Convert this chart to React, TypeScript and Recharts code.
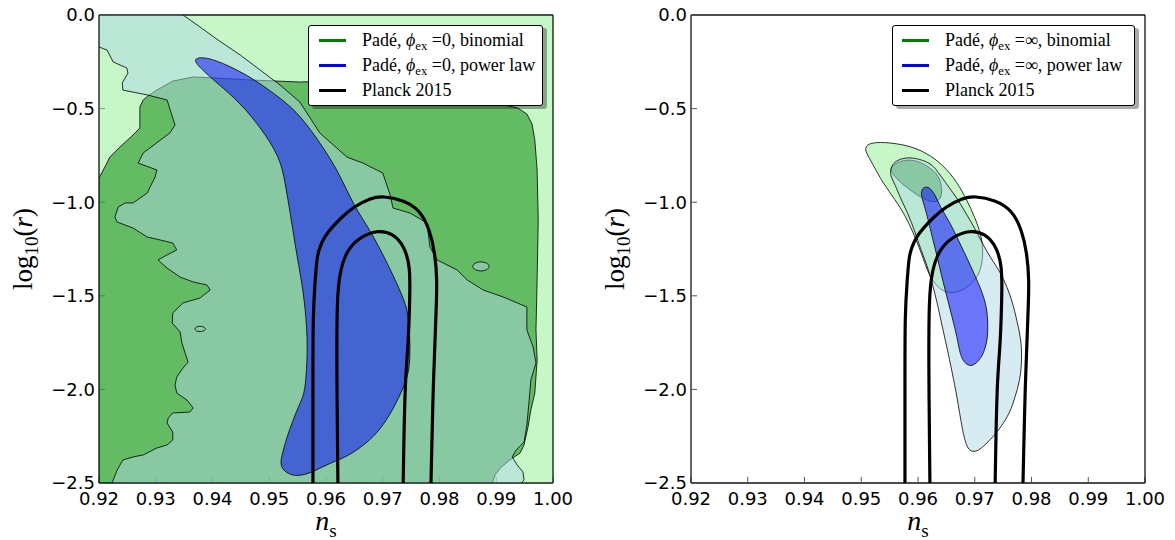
import { Curve, Legend, Scatter, ScatterChart, XAxis, YAxis } from "recharts";

type Pt = [number, number];
type CurveKind = "linearClosed" | "basisClosed";

const nsTicks = [0.92, 0.93, 0.94, 0.95, 0.96, 0.97, 0.98, 0.99, 1.0];
const logrTicks = [0, -0.5, -1, -1.5, -2, -2.5];

// left panel: phi_ex = 0
const leftBinomial2: Pt[] = [[0.92, 0], [1.0, 0], [1.0, -2.5], [0.92, -2.5]];

const leftBinomial1: Pt[] = [
  [0.92, -0.871], [0.9214, -0.791], [0.9219, -0.759], [0.9237, -0.705], [0.926, -0.641],
  [0.9272, -0.604], [0.9272, -0.491], [0.9278, -0.454], [0.9286, -0.433], [0.9302, -0.401],
  [0.933, -0.353], [0.9366, -0.331], [0.9408, -0.337], [0.9466, -0.347], [0.9554, -0.358],
  [0.9607, -0.353], [0.973, -0.369], [0.9854, -0.427], [0.9915, -0.481], [0.9938, -0.497],
  [0.9954, -0.529], [0.9963, -0.582], [0.9968, -0.668], [0.9972, -0.828], [0.9974, -1.095],
  [0.9972, -1.416], [0.997, -1.683], [0.9972, -1.843], [0.9968, -2.019], [0.9961, -2.11],
  [0.9956, -2.201], [0.9949, -2.297], [0.9942, -2.34], [0.9924, -2.377], [0.9907, -2.42],
  [0.9898, -2.457], [0.9893, -2.5], [0.92, -2.5],
];

const leftPower2: Pt[] = [
  [0.92, 0], [0.9348, 0], [0.9378, -0.064], [0.941, -0.134], [0.9449, -0.214], [0.9484, -0.294],
  [0.9519, -0.374], [0.9554, -0.465], [0.9589, -0.63], [0.9637, -0.759], [0.9665, -0.791],
  [0.97, -0.844], [0.9713, -0.962], [0.9718, -1.031], [0.9748, -1.058], [0.9778, -1.111],
  [0.9783, -1.239], [0.9796, -1.309], [0.9831, -1.362], [0.9849, -1.416], [0.9877, -1.469],
  [0.9912, -1.506], [0.9954, -1.56], [0.9954, -1.683], [0.9965, -1.774], [0.997, -1.859],
  [0.9961, -1.95], [0.9958, -2.057], [0.9954, -2.19], [0.9949, -2.281], [0.9935, -2.324],
  [0.9928, -2.361], [0.9937, -2.404], [0.9947, -2.441], [0.9949, -2.484], [0.9944, -2.5],
  [0.9223, -2.5], [0.9232, -2.431], [0.9242, -2.377], [0.926, -2.361], [0.9278, -2.35],
  [0.9302, -2.313], [0.932, -2.297], [0.933, -2.27], [0.933, -2.228], [0.932, -2.18],
  [0.9322, -2.153], [0.933, -2.126], [0.936, -2.121], [0.9366, -2.099], [0.9355, -2.057],
  [0.9337, -2.019], [0.9334, -1.977], [0.9337, -1.934], [0.9348, -1.886], [0.9357, -1.854],
  [0.9346, -1.752], [0.9343, -1.693], [0.9329, -1.645], [0.933, -1.592], [0.9348, -1.538],
  [0.9378, -1.512], [0.9396, -1.469], [0.939, -1.442], [0.9366, -1.426], [0.9343, -1.4],
  [0.932, -1.352], [0.9304, -1.309], [0.9313, -1.293], [0.9337, -1.255], [0.933, -1.218],
  [0.9308, -1.202], [0.9285, -1.186], [0.926, -1.138], [0.9232, -1.106], [0.9228, -1.079],
  [0.9234, -1.026], [0.9246, -1.004], [0.926, -1.004], [0.9285, -0.951], [0.929, -0.919],
  [0.9299, -0.865], [0.9302, -0.828], [0.9269, -0.791], [0.9278, -0.737], [0.9325, -0.63],
  [0.9334, -0.588], [0.932, -0.454], [0.9285, -0.427], [0.9242, -0.401], [0.9241, -0.363],
  [0.9251, -0.31], [0.9249, -0.283], [0.9225, -0.251], [0.9214, -0.187], [0.92, -0.171],
];

const leftPower2Island: Pt[] = [
  [0.9857, -1.343], [0.9862, -1.324], [0.9873, -1.316], [0.9884, -1.324],
  [0.9889, -1.343], [0.9884, -1.362], [0.9873, -1.37], [0.9862, -1.362],
];

const leftSpot: Pt[] = [
  [0.9368, -1.677], [0.9371, -1.666], [0.9378, -1.661], [0.9385, -1.666],
  [0.9389, -1.677], [0.9385, -1.688], [0.9378, -1.693], [0.9371, -1.688],
];

const leftPower1: Pt[] = [
  [0.9364, -0.23], [0.939, -0.224], [0.9426, -0.267], [0.9471, -0.337], [0.9524, -0.454],
  [0.9554, -0.534], [0.9595, -0.705], [0.9625, -0.855], [0.9648, -1.015], [0.9678, -1.149],
  [0.9708, -1.325], [0.9736, -1.506], [0.9745, -1.592], [0.9748, -1.736], [0.9748, -1.859],
  [0.9743, -1.95], [0.9718, -2.11], [0.9695, -2.217], [0.9672, -2.286], [0.9637, -2.361],
  [0.9607, -2.393], [0.9577, -2.441], [0.9554, -2.463], [0.9537, -2.457], [0.9524, -2.431],
  [0.9519, -2.393], [0.9524, -2.334], [0.9531, -2.254], [0.9542, -2.164], [0.9554, -2.073],
  [0.9563, -2.019], [0.9567, -1.843], [0.9567, -1.683], [0.956, -1.469], [0.9549, -1.293],
  [0.9537, -1.058], [0.9528, -0.897], [0.9519, -0.759], [0.9484, -0.598], [0.9449, -0.47],
  [0.9408, -0.363], [0.9378, -0.283],
];

// right panel: phi_ex = infinity
const rightBinomial2: Pt[] = [
  [0.9508, -0.732], [0.9507, -0.705], [0.9515, -0.684], [0.9538, -0.678], [0.9581, -0.694],
  [0.9616, -0.737], [0.9644, -0.801], [0.9669, -0.892], [0.9686, -0.988], [0.97, -1.079],
  [0.9713, -1.186], [0.9715, -1.293], [0.9709, -1.378], [0.9697, -1.432], [0.9674, -1.48],
  [0.9656, -1.485], [0.9639, -1.469], [0.9625, -1.416], [0.9616, -1.362], [0.9604, -1.255],
  [0.9591, -1.159], [0.9577, -1.068], [0.956, -0.988], [0.9538, -0.897], [0.9521, -0.801],
];

const rightBinomial1: Pt[] = [
  [0.9554, -0.812], [0.9563, -0.785], [0.9586, -0.769], [0.9609, -0.791], [0.9634, -0.844],
  [0.9642, -0.908], [0.9642, -0.972], [0.9634, -0.999], [0.9621, -0.999], [0.9598, -0.962],
  [0.9574, -0.908], [0.9556, -0.855], [0.9552, -0.828],
];

const rightPower2: Pt[] = [
  [0.9551, -0.828], [0.9556, -0.791], [0.9568, -0.769], [0.9586, -0.759], [0.9609, -0.775],
  [0.9626, -0.801], [0.9635, -0.839], [0.9648, -0.892], [0.9662, -0.951], [0.9674, -1.004],
  [0.9686, -1.068], [0.97, -1.138], [0.9713, -1.218], [0.9727, -1.293], [0.9745, -1.373],
  [0.9757, -1.453], [0.9767, -1.538], [0.9774, -1.629], [0.9782, -1.736], [0.9783, -1.843],
  [0.978, -1.95], [0.9771, -2.041], [0.9762, -2.126], [0.9745, -2.206], [0.9732, -2.254],
  [0.9718, -2.297], [0.9706, -2.329], [0.9695, -2.334], [0.9686, -2.313], [0.9678, -2.217],
  [0.9669, -2.041], [0.966, -1.907], [0.9651, -1.774], [0.9642, -1.656], [0.9634, -1.538],
  [0.9625, -1.432], [0.9616, -1.336], [0.9605, -1.255], [0.9595, -1.159], [0.9582, -1.058],
  [0.9568, -0.972], [0.956, -0.908], [0.9552, -0.865],
];

const rightPower1: Pt[] = [
  [0.9607, -0.924], [0.9618, -0.913], [0.963, -0.956], [0.9639, -1.026], [0.9656, -1.106],
  [0.9671, -1.202], [0.9688, -1.309], [0.9704, -1.416], [0.9715, -1.496], [0.9722, -1.576],
  [0.9723, -1.656], [0.9723, -1.72], [0.9718, -1.79], [0.9709, -1.843], [0.9695, -1.88],
  [0.9683, -1.864], [0.9674, -1.816], [0.9669, -1.72], [0.966, -1.613], [0.9651, -1.506],
  [0.9642, -1.4], [0.9634, -1.293], [0.9625, -1.186], [0.9618, -1.095], [0.9611, -1.015],
  [0.9605, -0.962],
];

// Planck 2015, same on both panels
const planckOuter: Pt[] = [
  [0.9577, -2.5], [0.9577, -1.95], [0.9577, -1.592], [0.9581, -1.416], [0.9584, -1.293],
  [0.9589, -1.239], [0.9598, -1.181], [0.9611, -1.133], [0.9628, -1.079], [0.9648, -1.026],
  [0.9678, -0.978], [0.97, -0.967], [0.9736, -0.988], [0.9766, -1.042], [0.9783, -1.149],
  [0.9792, -1.271], [0.9796, -1.416], [0.9794, -1.592], [0.9789, -1.95], [0.9785, -2.5],
];

const planckInner: Pt[] = [
  [0.9621, -2.5], [0.9619, -1.95], [0.9619, -1.506], [0.9625, -1.362], [0.9637, -1.255],
  [0.966, -1.186], [0.969, -1.149], [0.9718, -1.165], [0.9739, -1.239], [0.9748, -1.346],
  [0.9748, -1.485], [0.9745, -1.774], [0.9739, -1.95], [0.9736, -2.5],
];

const legendModels = ["binomial", "power law"];
const legendColors = ["#008000", "#0000ff", "#000000"];
const planckLabel = "Planck 2015";

const LIGHT_GREEN = "#90ee90";
const GREEN = "#008000";
const LIGHT_BLUE = "#add8e6";
const BLUE = "#0000ff";
const SERIF = '"Liberation Serif", "DejaVu Serif", serif';

type ContourLayer = { name: string; pts: Pt[]; fill: string; curve: CurveKind };

const leftLayers: ContourLayer[] = [
  { name: "b2", pts: leftBinomial2, fill: LIGHT_GREEN, curve: "linearClosed" },
  { name: "b1", pts: leftBinomial1, fill: GREEN, curve: "linearClosed" },
  { name: "p2", pts: leftPower2, fill: LIGHT_BLUE, curve: "linearClosed" },
  { name: "p2-island", pts: leftPower2Island, fill: LIGHT_BLUE, curve: "basisClosed" },
  { name: "spot", pts: leftSpot, fill: "none", curve: "basisClosed" },
  { name: "p1", pts: leftPower1, fill: BLUE, curve: "basisClosed" },
];

const rightLayers: ContourLayer[] = [
  { name: "b2", pts: rightBinomial2, fill: LIGHT_GREEN, curve: "basisClosed" },
  { name: "b1", pts: rightBinomial1, fill: GREEN, curve: "basisClosed" },
  { name: "p2", pts: rightPower2, fill: LIGHT_BLUE, curve: "basisClosed" },
  { name: "p1", pts: rightPower1, fill: BLUE, curve: "basisClosed" },
];

const toXY = (pts: Pt[]) => pts.map(([x, y]) => ({ x, y }));
const fmtNs = (v: number) => v.toFixed(2);
const fmtLogr = (v: number) => (v === 0 ? "0.0" : "\u2212" + Math.abs(v).toFixed(1));

const noSymbol = () => <g />;

const areaLine = (fill: string, curve: CurveKind) => (props: any) => (
  <Curve
    points={props.points}
    type={curve}
    fill={fill}
    fillOpacity={0.5}
    stroke="#000"
    strokeWidth={0.8}
  />
);

const planckLine = (props: any) => (
  <Curve points={props.points} type="basis" fill="none" stroke="#000" strokeWidth={3.2} />
);

function XTitle(props: any) {
  const vb = props.viewBox ?? { x: 99, y: 483, width: 454, height: 30 };
  return (
    <text
      x={vb.x + vb.width / 2}
      y={vb.y + 47}
      textAnchor="middle"
      fontFamily="Liberation Serif"
      fontSize={28}
      fill="#000"
    >
      <tspan fontStyle="italic">n</tspan>
      <tspan fontSize={19} dy={7}>s</tspan>
    </text>
  );
}

function YTitle(props: any) {
  const vb = props.viewBox ?? { x: 39, y: 15, width: 60, height: 468 };
  const bx = vb.x + vb.width - 67;
  const cy = vb.y + vb.height / 2;
  return (
    <text
      transform={`translate(${bx},${cy}) rotate(-90)`}
      textAnchor="middle"
      fontFamily="Liberation Serif"
      fontSize={27}
      fill="#000"
    >
      log<tspan fontSize={19} dy={6}>10</tspan>
      <tspan dy={-6}>(</tspan>
      <tspan fontStyle="italic">r</tspan>)
    </text>
  );
}

type LegendBoxProps = { value: string; width: number; handleLeft: number; textLeft: number };

function LegendBox({ value, width, handleLeft, textLeft }: LegendBoxProps) {
  const labels = [
    ...legendModels.map((m) => (
      <>
        Padé, <i style={{ fontFamily: SERIF }}>ϕ</i>
        <span style={{ fontSize: "0.7em", position: "relative", top: "0.35em" }}>ex</span> ={value}, {m}
      </>
    )),
    <>{planckLabel}</>,
  ];
  return (
    <div
      style={{
        position: "relative",
        width,
        height: 81,
        boxSizing: "border-box",
        border: "1px solid #000",
        borderRadius: 3,
        background: "#fff",
        boxShadow: "4px 3px 0 rgba(0,0,0,0.33)",
        fontFamily: SERIF,
        fontSize: 18,
        color: "#000",
      }}
    >
      {labels.map((label, i) => (
        <div key={i} style={{ position: "absolute", left: 0, right: 0, top: 2 + i * 25, height: 24 }}>
          <div
            style={{
              position: "absolute",
              left: handleLeft,
              top: 10.5,
              width: 27,
              height: 3,
              background: legendColors[i],
            }}
          />
          <div
            style={{
              position: "absolute",
              left: textLeft,
              top: 0,
              lineHeight: "24px",
              whiteSpace: "nowrap",
              fontFamily: SERIF,
              fontWeight: 400,
            }}
          >
            {label}
          </div>
        </div>
      ))}
    </div>
  );
}

type PanelProps = {
  left: number;
  layers: ContourLayer[];
  legendValue: string;
  legendX: number;
  legendWidth: number;
  handleLeft: number;
  textLeft: number;
};

function Panel({ left, layers, legendValue, legendX, legendWidth, handleLeft, textLeft }: PanelProps) {
  const tickFont = { fill: "#000", fontSize: 18, fontFamily: "DejaVu Sans" };
  const tickLine = { stroke: "#555", strokeWidth: 1 };
  const axisLine = { stroke: "#111", strokeWidth: 1.3 };
  return (
    <div style={{ position: "absolute", left, top: 0 }}>
      <ScatterChart width={600} height={540} margin={{ top: 14, right: 46, bottom: 27, left: 39 }}>
        {layers.map((l) => (
          <Scatter
            key={l.name}
            name={l.name}
            data={toXY(l.pts)}
            shape={noSymbol}
            line={areaLine(l.fill, l.curve)}
            legendType="none"
            isAnimationActive={false}
          />
        ))}
        {[planckOuter, planckInner].map((pts, i) => (
          <Scatter
            key={"planck" + i}
            name={"planck" + i}
            data={toXY(pts)}
            shape={noSymbol}
            line={planckLine}
            legendType="none"
            isAnimationActive={false}
          />
        ))}
        <XAxis
          type="number"
          dataKey="x"
          domain={[0.92, 1]}
          ticks={nsTicks}
          interval={0}
          allowDataOverflow
          height={30}
          tickFormatter={fmtNs}
          tick={tickFont}
          tickSize={-6}
          tickMargin={15}
          tickLine={tickLine}
          axisLine={axisLine}
          label={<XTitle />}
        />
        <XAxis
          xAxisId="top"
          orientation="top"
          type="number"
          domain={[0.92, 1]}
          ticks={nsTicks}
          interval={0}
          allowDataOverflow
          height={1}
          tick={false}
          tickSize={-6}
          tickLine={tickLine}
          axisLine={axisLine}
        />
        <YAxis
          type="number"
          dataKey="y"
          domain={[-2.5, 0]}
          ticks={logrTicks}
          interval={0}
          allowDataOverflow
          width={60}
          tickFormatter={fmtLogr}
          tick={tickFont}
          tickSize={-6}
          tickMargin={10}
          tickLine={tickLine}
          axisLine={axisLine}
          label={<YTitle />}
        />
        <YAxis
          yAxisId="right"
          orientation="right"
          type="number"
          domain={[-2.5, 0]}
          ticks={logrTicks}
          interval={0}
          allowDataOverflow
          width={1}
          tick={false}
          tickSize={-6}
          tickLine={tickLine}
          axisLine={axisLine}
        />
        <Legend
          layout="vertical"
          align="center"
          verticalAlign="middle"
          wrapperStyle={{ position: "absolute", top: 25, left: legendX, width: legendWidth, height: 81 }}
          content={() => (
            <LegendBox value={legendValue} width={legendWidth} handleLeft={handleLeft} textLeft={textLeft} />
          )}
        />
      </ScatterChart>
    </div>
  );
}

export default function App() {
  return (
    <div style={{ position: "absolute", left: 0, top: 0, width: 1175, height: 540, background: "#fff", overflow: "hidden" }}>
      <Panel left={0} layers={leftLayers} legendValue="0" legendX={308} legendWidth={235} handleLeft={10} textLeft={53} />
      <Panel left={592} layers={rightLayers} legendValue="∞" legendX={300} legendWidth={243} handleLeft={9} textLeft={52} />
    </div>
  );
}
